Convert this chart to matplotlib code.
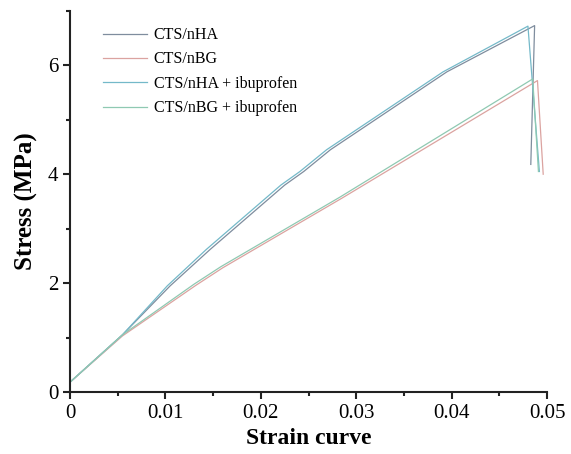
import matplotlib
matplotlib.use("Agg")
import matplotlib.pyplot as plt
from matplotlib.ticker import MultipleLocator

# strain / stress values
nha_x = [0, 0.0055, 0.0105, 0.0147, 0.0225, 0.0245, 0.0273, 0.0395, 0.0487, 0.0483]
nha_y = [0.18, 1.05, 1.95, 2.62, 3.80, 4.05, 4.45, 5.88, 6.73, 4.18]

nha_ibu_x = [0, 0.0055, 0.0102, 0.0143, 0.0221, 0.0241, 0.0269, 0.0391, 0.0480, 0.0492]
nha_ibu_y = [0.18, 1.05, 1.95, 2.62, 3.80, 4.05, 4.45, 5.88, 6.72, 4.05]

nbg_x = [0, 0.0055, 0.0132, 0.0160, 0.0285, 0.0490, 0.0496]
nbg_y = [0.18, 1.03, 1.96, 2.28, 3.56, 5.72, 4.00]

nbg_ibu_x = [0, 0.0055, 0.0130, 0.0158, 0.0283, 0.0485, 0.0491]
nbg_ibu_y = [0.18, 1.05, 1.98, 2.30, 3.58, 5.75, 4.05]

labels = ["CTS/nHA", "CTS/nBG", "CTS/nHA + ibuprofen", "CTS/nBG + ibuprofen"]
colors = ["#7f8d9e", "#dba3a0", "#74b9c9", "#8fc9b2"]
xticks = [0, 0.01, 0.02, 0.03, 0.04, 0.05]
xticklabels = ["0", "0.01", "0.02", "0.03", "0.04", "0.05"]

plt.rcParams["font.family"] = ["Liberation Serif", "DejaVu Serif"]

fig = plt.figure(figsize=(5.71, 4.54), dpi=100)
ax = fig.add_axes([0.1226, 0.1366, 0.8354, 0.8394])

ax.plot(nha_x, nha_y, color=colors[0], lw=0.9, label=labels[0])
ax.plot(nbg_x, nbg_y, color=colors[1], lw=0.9, label=labels[1])
ax.plot(nha_ibu_x, nha_ibu_y, color=colors[2], lw=0.9, label=labels[2])
ax.plot(nbg_ibu_x, nbg_ibu_y, color=colors[3], lw=0.9, label=labels[3])

ax.set_xlim(0, 0.05)
ax.set_ylim(0, 7)
ax.set_xticks(xticks)
ax.set_xticklabels(xticklabels)
ax.xaxis.set_minor_locator(MultipleLocator(0.005))
ax.yaxis.set_major_locator(MultipleLocator(2))
ax.yaxis.set_minor_locator(MultipleLocator(1))

for s in ["top", "right"]:
    ax.spines[s].set_visible(False)
for s in ["left", "bottom"]:
    ax.spines[s].set_linewidth(1.5)
    ax.spines[s].set_color("#222222")

ax.tick_params(which="major", direction="out", length=5, width=1.5, labelsize=15,
               color="#222222", labelcolor="black")
ax.tick_params(which="minor", direction="out", length=3, width=1.5, color="#222222")

ax.set_xlabel("Strain curve", fontsize=17, fontweight="bold", labelpad=4)
ax.set_ylabel("Stress (MPa)", fontsize=18, fontweight="bold", labelpad=7)

ax.legend(loc="upper left", bbox_to_anchor=(0.04, 0.995), frameon=False, fontsize=11.5,
          handlelength=2.7, handletextpad=0.45, labelspacing=0.52)

fig.savefig("out.png", dpi=100)
